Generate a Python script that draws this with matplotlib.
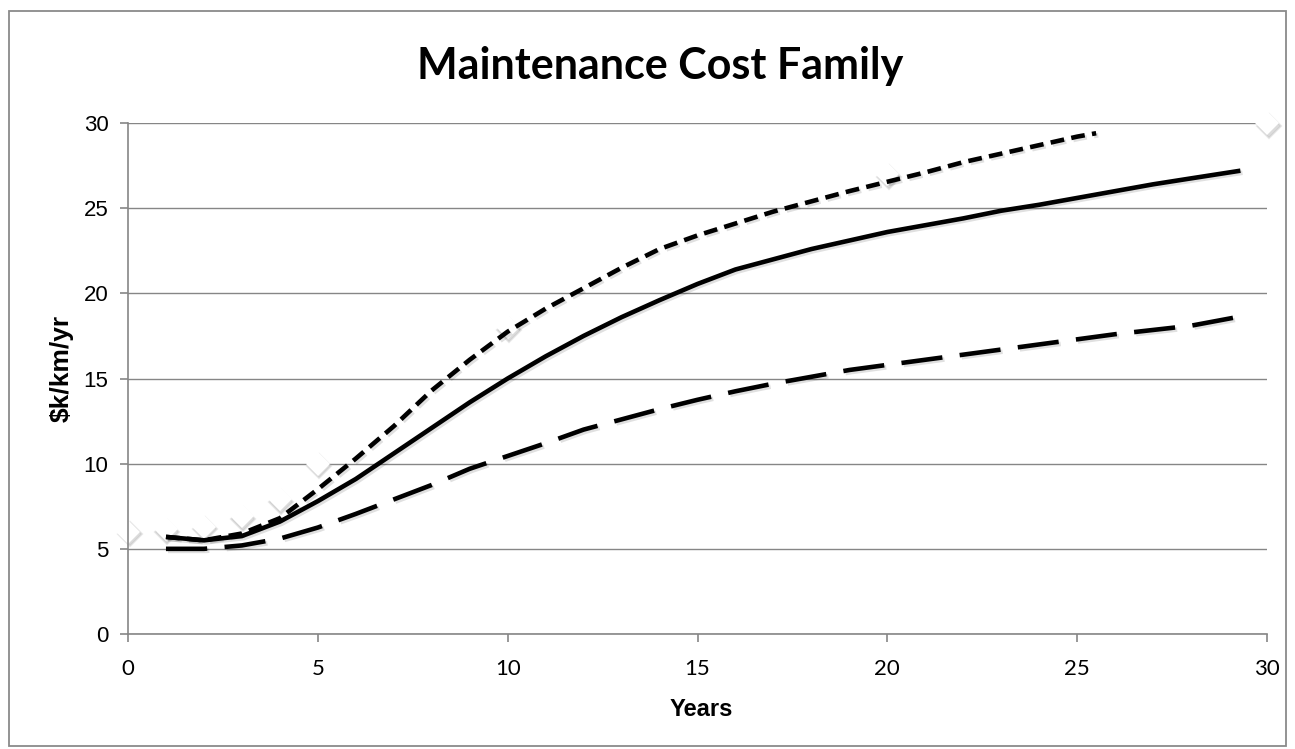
import matplotlib
matplotlib.use("Agg")
import matplotlib.pyplot as plt
import matplotlib.patheffects as pe
from matplotlib.patches import Rectangle
from matplotlib.transforms import ScaledTranslation

# Observed maintenance cost (white diamonds)
obs_years = [0, 1, 2, 3, 4, 5, 10, 20, 30]
obs_cost = [6.0, 6.15, 6.3, 6.9, 7.9, 10.0, 18.0, 27.0, 30.0]

# Upper curve (short dashes)
high_years = [1, 2, 3, 4, 5, 6, 7, 8, 9, 10, 11, 12, 13, 14, 15, 16, 17, 18,
              19, 20, 21, 22, 23, 24, 25, 25.5]
high_cost = [5.7, 5.5, 5.9, 6.8, 8.5, 10.3, 12.2, 14.3, 16.1, 17.75, 19.1,
             20.3, 21.5, 22.6, 23.4, 24.1, 24.8, 25.4, 26.0, 26.55, 27.1,
             27.7, 28.2, 28.7, 29.2, 29.4]

# Middle curve (solid)
mid_years = [1, 2, 3, 4, 5, 6, 7, 8, 9, 10, 11, 12, 13, 14, 15, 16, 17, 18,
             19, 20, 21, 22, 23, 24, 25, 26, 27, 28, 29.3]
mid_cost = [5.7, 5.5, 5.75, 6.6, 7.8, 9.1, 10.6, 12.1, 13.6, 15.0, 16.3,
            17.5, 18.6, 19.6, 20.55, 21.4, 22.0, 22.6, 23.1, 23.6, 24.0,
            24.4, 24.85, 25.2, 25.6, 26.0, 26.4, 26.75, 27.2]

# Lower curve (long dashes)
low_years = [1, 2, 3, 4, 5, 6, 7, 8, 9, 10, 11, 12, 13, 14, 15, 16, 17, 18,
             19, 20, 21, 22, 24, 26, 28, 29.2]
low_cost = [5.0, 5.0, 5.2, 5.6, 6.25, 7.05, 7.9, 8.75, 9.7, 10.45, 11.2,
            12.0, 12.6, 13.2, 13.75, 14.25, 14.7, 15.1, 15.5, 15.8, 16.1,
            16.4, 17.0, 17.6, 18.1, 18.6]

x_ticks = [0, 5, 10, 15, 20, 25, 30]
y_ticks = [0, 5, 10, 15, 20, 25, 30]

GRAY = "#868686"

fig = plt.figure(figsize=(12.95, 7.49), dpi=100)
ax = fig.add_axes([128 / 1295, 1 - 634 / 749, (1267 - 128) / 1295, (634 - 123) / 749])

# chart frame
fig.patches.append(Rectangle((9 / 1295, 3 / 749), (1286 - 9) / 1295, (746 - 11) / 749,
                             transform=fig.transFigure, fill=False,
                             edgecolor="#8a8a8a", linewidth=1.3, zorder=0))

line_fx = [pe.SimpleLineShadow(offset=(1.5, -1.5), shadow_color="black", alpha=0.12),
           pe.Normal()]

# soft shadow under each diamond, then the white diamonds themselves
shadow_tf = ax.transData + ScaledTranslation(1.5 / 100, -2.5 / 100, fig.dpi_scale_trans)
ax.plot(obs_years, obs_cost, linestyle="none", marker="D", markersize=12.5,
        markerfacecolor="#9a9a9a", markeredgecolor="#bdbdbd", markeredgewidth=1.5,
        alpha=0.35, clip_on=False, zorder=2, transform=shadow_tf)
ax.plot(obs_years, obs_cost, linestyle="none", marker="D", markersize=12,
        markerfacecolor="white", markeredgecolor="white", markeredgewidth=0,
        clip_on=False, zorder=2.5)

lw = 3.3
ax.plot(high_years, high_cost, color="black", linewidth=lw, dashes=(3.0, 1.6),
        dash_capstyle="butt", zorder=3, path_effects=line_fx)
ax.plot(mid_years, mid_cost, color="black", linewidth=lw, zorder=3,
        solid_capstyle="butt", path_effects=line_fx)
ax.plot(low_years, low_cost, color="black", linewidth=lw, dashes=(9.0, 3.8),
        dash_capstyle="butt", zorder=3, path_effects=line_fx)

ax.set_xlim(0, 30)
ax.set_ylim(0, 30)
ax.set_xticks(x_ticks)
ax.set_yticks(y_ticks)
ax.set_xticklabels([str(t) for t in x_ticks], fontfamily="Lato", fontsize=16)
ax.set_yticklabels([str(t) for t in y_ticks], fontfamily="Liberation Sans", fontsize=16)
ax.tick_params(axis="both", color=GRAY, width=1.2, length=6, direction="out")
ax.tick_params(axis="x", pad=12)
ax.tick_params(axis="y", pad=8)

ax.grid(axis="y", color=GRAY, linewidth=1.0)
ax.set_axisbelow(True)
for side in ("top", "right"):
    ax.spines[side].set_visible(False)
for side in ("left", "bottom"):
    ax.spines[side].set_color(GRAY)
    ax.spines[side].set_linewidth(1.2)

fig.text(660 / 1295, 1 - 66 / 749, "Maintenance Cost Family", ha="center", va="center",
         fontfamily="Lato", fontweight="bold", fontsize=31)
fig.text(62 / 1295, 1 - 368 / 749, "$k/km/yr", ha="center", va="center", rotation=90,
         fontfamily="Liberation Sans", fontweight="bold", fontsize=19)
fig.text(701 / 1295, 1 - 710 / 749, "Years", ha="center", va="center",
         fontfamily="Liberation Sans", fontweight="bold", fontsize=17)

fig.savefig("out.png", dpi=100)
